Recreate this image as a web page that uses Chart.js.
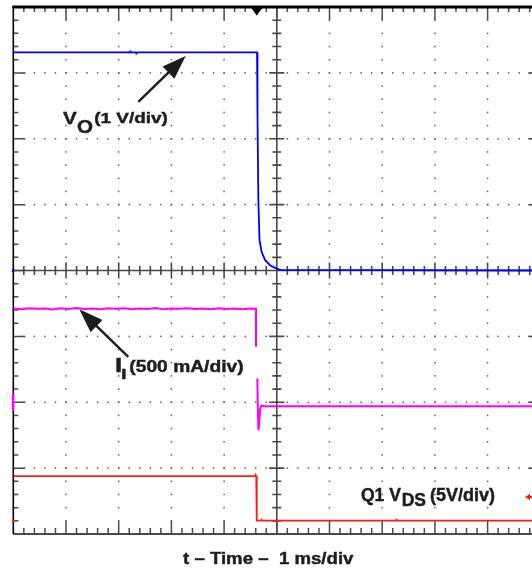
<!DOCTYPE html>
<html>
<head>
<meta charset="utf-8">
<script src="https://cdn.jsdelivr.net/npm/chart.js@4.4.1/dist/chart.umd.min.js"></script>
<style>
  html, body { margin: 0; padding: 0; background: #fff; overflow: hidden; }
  #wrap { position: relative; width: 532px; height: 569px; overflow: hidden; }
  #c { position: absolute; left: 0; top: 0; }
  .lbl span { position: absolute; line-height: 0; white-space: pre; color: #1e1e1e; font-weight: bold;
              font-family: "Liberation Sans", Arial, Helvetica, sans-serif; transform-origin: 0 50%;
              -webkit-text-stroke: 0.45px #1e1e1e; }
</style>
</head>
<body>
<div id="wrap">
  <canvas id="c" width="545" height="569"></canvas>
  <div class="lbl">
    <span style="left:62.5px; top:117.5px; font-size:17.2px; transform:scaleX(1.2);">V</span>
    <span style="left:76.5px; top:127.4px; font-size:19.2px; transform:scaleX(1.07);">O</span>
    <span style="left:88.8px; top:118.1px; font-size:15.4px; transform:scaleX(1.23);"> (1 V/div)</span>
  </div>
  <div class="lbl">
    <span style="left:114.9px; top:364.8px; font-size:20px; transform:scaleX(1.3);">I</span>
    <span style="left:120.6px; top:373.7px; font-size:15.4px; transform:scaleX(1.3);">I</span>
    <span style="left:123.7px; top:366.05px; font-size:16.3px; transform:scaleX(1.18);"> (500 mA/div)</span>
  </div>
  <div class="lbl">
    <span style="left:361px; top:494.6px; font-size:17.5px;">Q1 V</span>
    <span style="left:401.7px; top:499.6px; font-size:17.5px;">DS</span>
    <span style="left:425px; top:494.5px; font-size:18px;"> (5V/div)</span>
  </div>
  <div class="lbl">
    <span style="left:182.6px; top:559.2px; font-size:16.7px; transform:scaleX(1.116);">t – Time –  1 ms/div</span>
  </div>
</div>
<script>
// ---- Data (time in ms, 1 ms/div) ----
// V_O, 1 V/div, ground at centre line
const voTime  = [0, 2.215, 2.22, 2.225, 2.33, 2.335, 2.34, 4.625, 4.625, 4.643, 4.65, 4.672, 4.713, 4.776, 4.871, 4.966, 5.06, 10];
const voVolts = [3.31, 3.31, 3.34, 3.31, 3.31, 3.28, 3.31, 3.31, 2.34, 2.32, 1.07, 0.46, 0.28, 0.16, 0.08, 0.04, 0.01, 0];

// I_I, 500 mA/div
const iTime = [0, 0.15, 0.3, 0.45, 0.6, 0.75, 0.9, 1.05, 1.2, 1.35, 1.5, 1.65, 1.8, 1.95, 2.1, 2.25,
               2.4, 2.55, 2.7, 2.85, 3.0, 3.15, 3.3, 3.45, 3.6, 3.75, 3.9, 4.05, 4.2, 4.35, 4.5, 4.605,
               4.605, 4.618, 4.63, 4.645, 4.65, 4.665, 4.685, 4.713, 4.76, 10];
const iAmps = [0.711, 0.706, 0.714, 0.709, 0.712, 0.704, 0.713, 0.708, 0.715, 0.707, 0.711, 0.705, 0.713, 0.709, 0.714, 0.706,
               0.712, 0.708, 0.715, 0.705, 0.711, 0.709, 0.714, 0.707, 0.712, 0.706, 0.713, 0.708, 0.711, 0.705, 0.712, 0.710,
               0.421, null, 0.181, -0.12, -0.211, -0.17, -0.05, -0.025, -0.03, -0.03];

// Q1 V_DS, 5 V/div
const vdsTime  = [0, 4.59, 4.6, 4.61, 4.62, 4.62, 4.70, 4.71, 4.73, 7.26, 7.275, 7.29, 10];
const vdsVolts = [3.39, 3.39, 3.45, 3.39, 3.3, 0, 0, 0.07, 0, 0, 0.08, 0, 0];

// Screen settings
const timeRange = [0, 10];          // 10 div x 1 ms
const gridDivs  = [0, 8];           // 8 vertical divisions
const voRange   = [-4, 4];          // 1 V/div, ground at 4 div
const iRange    = [-1, 3];          // 0.5 A/div, ground at 2 div
const vdsRange  = [-1.01, 38.99];   // 5 V/div, ground at 0.202 div
const triggerTime = 4.62;
const triggerLevel = 1.8;

// annotation arrows: [tailTime, tailDiv, tipTime, tipDiv]
const arrowVo = [2.372, 6.56, 3.271, 7.258];
const arrowIi = [2.182, 2.69, 1.252, 3.41];

const toXY = (xs, ys) => xs.map((x, i) => ({ x: x, y: ys[i] }));

const scopePlugin = {
  id: 'scope',
  beforeDatasetsDraw(chart) {
    const ctx = chart.ctx, a = chart.chartArea;
    const X = v => chart.scales.x.getPixelForValue(v);
    const Y = v => chart.scales.grid.getPixelForValue(v);
    ctx.save();
    // dotted graticule
    ctx.fillStyle = '#5c5c5c';
    for (let i = 1; i < 10; i++) {
      if (i === 5) continue;
      const px = X(i);
      for (let j = 1; j < 40; j++) ctx.fillRect(px - 0.75, Y(j / 5) - 0.75, 1.5, 1.5);
    }
    for (let j = 1; j < 8; j++) {
      if (j === 4) continue;
      const py = Y(j);
      for (let i = 1; i < 50; i++) ctx.fillRect(X(i / 5) - 0.75, py - 0.75, 1.5, 1.5);
    }
    // centre axes
    ctx.strokeStyle = '#484848';
    ctx.lineWidth = 1.6;
    const cx = X(5), cy = Y(4);
    ctx.beginPath();
    ctx.moveTo(cx, a.top); ctx.lineTo(cx, a.bottom);
    ctx.moveTo(a.left, cy); ctx.lineTo(a.right, cy);
    for (let k = 1; k < 40; k++) {
      const len = k % 5 === 0 ? 7.5 : 4.5, py = Y(k / 5);
      ctx.moveTo(cx - len, py); ctx.lineTo(cx + len, py);
    }
    for (let k = 1; k < 50; k++) {
      const len = k % 5 === 0 ? 8 : 4.5, px = X(k / 5);
      ctx.moveTo(px, cy - len); ctx.lineTo(px, cy + len);
    }
    ctx.stroke();
    // border ticks
    ctx.lineWidth = 1.5;
    ctx.strokeStyle = '#4a4a4a';
    ctx.beginPath();
    for (let k = 1; k < 50; k++) {
      const px = X(k / 5);
      const lt = k % 5 === 0 ? 13 : 5, lb = k % 5 === 0 ? 13 : 6;
      ctx.moveTo(px, a.top); ctx.lineTo(px, a.top + lt);
      ctx.moveTo(px, a.bottom); ctx.lineTo(px, a.bottom - lb);
    }
    for (let k = 1; k < 40; k++) {
      const py = Y(k / 5), len = k % 5 === 0 ? 12 : 5;
      ctx.moveTo(a.left, py); ctx.lineTo(a.left + len, py);
      ctx.moveTo(a.right, py); ctx.lineTo(a.right - len, py);
    }
    ctx.stroke();
    // borders
    ctx.strokeStyle = '#4a4a4a'; ctx.lineWidth = 2;
    ctx.beginPath(); ctx.moveTo(a.left, a.bottom); ctx.lineTo(a.right, a.bottom); ctx.stroke();
    ctx.strokeStyle = '#000'; ctx.lineWidth = 1.6;
    ctx.beginPath(); ctx.moveTo(a.left, a.top); ctx.lineTo(a.left, a.bottom); ctx.stroke();
    ctx.lineWidth = 3;
    ctx.beginPath(); ctx.moveTo(a.left - 1, a.top); ctx.lineTo(a.right, a.top); ctx.stroke();
    // trigger marker
    const tx = X(triggerTime);
    ctx.fillStyle = '#000';
    ctx.beginPath();
    ctx.moveTo(tx - 5.5, a.top + 1); ctx.lineTo(tx + 5.5, a.top + 1); ctx.lineTo(tx, a.top + 8.5);
    ctx.closePath(); ctx.fill();
    // channel ground markers
    ctx.fillStyle = '#0000ff';
    ctx.fillRect(a.left - 1.5, chart.scales.yVo.getPixelForValue(0) - 1, 2.5, 2.5);
    ctx.fillStyle = '#ff00ff';
    ctx.fillRect(a.left - 1.5, chart.scales.yIi.getPixelForValue(0) - 8.5, 2.5, 17);
    ctx.fillStyle = '#ff1a1a';
    ctx.fillRect(a.left - 1.5, chart.scales.yVds.getPixelForValue(0) - 1, 2.5, 2.5);
    // trigger level arrow (right)
    const ly = chart.scales.yVds.getPixelForValue(triggerLevel), lx = X(9.71);
    ctx.beginPath();
    ctx.moveTo(lx, ly); ctx.lineTo(lx + 5, ly - 3.2); ctx.lineTo(lx + 5, ly + 3.2); ctx.closePath(); ctx.fill();
    ctx.fillRect(lx + 4, ly - 1, 8, 2);
    ctx.restore();
  },
  afterDatasetsDraw(chart) {
    const ctx = chart.ctx;
    const X = v => chart.scales.x.getPixelForValue(v);
    const Y = v => chart.scales.grid.getPixelForValue(v);
    const drawArrow = (arr) => {
      const x0 = X(arr[0]), y0 = Y(arr[1]), x1 = X(arr[2]), y1 = Y(arr[3]);
      const ang = Math.atan2(y1 - y0, x1 - x0);
      const hl = 24, hw = 8.5;
      const bx = x1 - hl * Math.cos(ang), by = y1 - hl * Math.sin(ang);
      ctx.save();
      ctx.strokeStyle = '#1c1c1c'; ctx.fillStyle = '#1c1c1c'; ctx.lineWidth = 2.4;
      ctx.beginPath(); ctx.moveTo(x0, y0); ctx.lineTo(bx + 2 * Math.cos(ang), by + 2 * Math.sin(ang)); ctx.stroke();
      ctx.beginPath();
      ctx.moveTo(x1, y1);
      ctx.lineTo(bx + hw * Math.sin(ang), by - hw * Math.cos(ang));
      ctx.lineTo(bx - hw * Math.sin(ang), by + hw * Math.cos(ang));
      ctx.closePath(); ctx.fill();
      ctx.restore();
    };
    drawArrow(arrowVo);
    drawArrow(arrowIi);
  }
};

const hidden = (axis, min, max) => ({ type: 'linear', axis: axis, position: axis === 'x' ? 'bottom' : 'left', min: min, max: max, display: false });

new Chart(document.getElementById('c'), {
  type: 'line',
  data: {
    datasets: [
      { label: 'V_O', data: toXY(voTime, voVolts), xAxisID: 'x', yAxisID: 'yVo', borderColor: '#0000ff', borderWidth: 1.8, pointRadius: 0, tension: 0 },
      { label: 'I_I', data: toXY(iTime, iAmps), xAxisID: 'x', yAxisID: 'yIi', borderColor: '#ff00ff', borderWidth: 2, pointRadius: 0, tension: 0, spanGaps: false },
      { label: 'Q1 V_DS', data: toXY(vdsTime, vdsVolts), xAxisID: 'x', yAxisID: 'yVds', borderColor: '#ff1a1a', borderWidth: 1.8, pointRadius: 0, tension: 0 }
    ]
  },
  options: {
    responsive: false,
    animation: false,
    layout: { padding: { left: 13.3, top: 7, right: 4.7, bottom: 35 } },
    scales: {
      x: hidden('x', timeRange[0], timeRange[1]),
      grid: hidden('y', gridDivs[0], gridDivs[1]),
      yVo: hidden('y', voRange[0], voRange[1]),
      yIi: hidden('y', iRange[0], iRange[1]),
      yVds: hidden('y', vdsRange[0], vdsRange[1])
    },
    plugins: { legend: { display: false }, tooltip: { enabled: false }, title: { display: false } }
  },
  plugins: [scopePlugin]
});
</script>
</body>
</html>
